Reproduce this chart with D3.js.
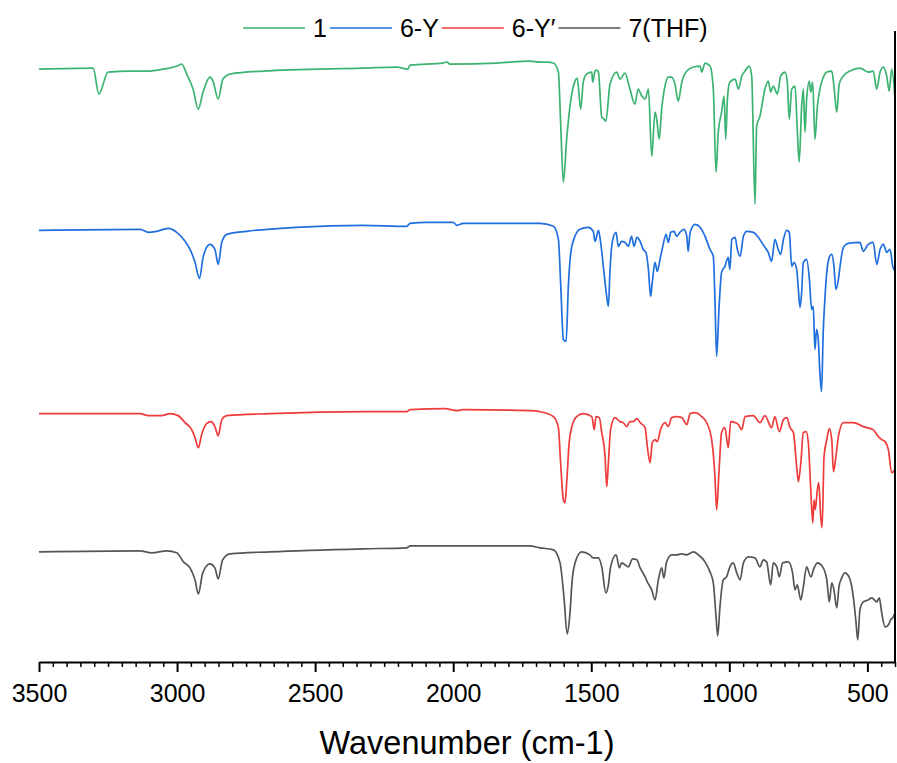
<!DOCTYPE html>
<html>
<head>
<meta charset="utf-8">
<script src="https://cdn.jsdelivr.net/npm/d3@7"></script>
<style>
    body { margin: 0; background: #fff; }
    svg text { font-family: Arial, "Liberation Sans", sans-serif; fill: #000; }
</style>
</head>
<body>
<div id="chart"></div>
<script>
// stacked IR spectra, [wavenumber, offset intensity]
const seriesNames = ['1', '6-Y', '6-Y\u2032', '7(THF)'];
const seriesColors = ['#3BB371', '#1F6FDE', '#EE3B3B', '#555555'];
const wavenumberTicks = [3500, 3000, 2500, 2000, 1500, 1000, 500];

const spec1 = [
    [3500, 592], [3304, 593], [3283, 567], [3250, 589], [3170, 590], [3098, 590], [3073, 591],
    [3000, 595], [2983, 597], [2965, 587], [2942, 572], [2923, 552], [2906, 569], [2881, 584],
    [2870, 580], [2851, 562], [2834, 582], [2808, 587], [2689, 590], [2327, 593], [2204, 594],
    [2164, 592], [2156, 596], [2037, 598], [2022, 599], [2012, 597], [1841, 598], [1722, 600],
    [1686, 599], [1660, 599], [1637, 598], [1619, 589], [1611, 539], [1601, 479], [1589, 522],
    [1577, 555], [1559, 580], [1551, 583], [1538, 552], [1529, 579], [1517, 587], [1498, 589],
    [1495, 579], [1486, 590], [1480, 591], [1474, 589], [1462, 544], [1454, 542], [1447, 540],
    [1432, 577], [1408, 589], [1396, 582], [1378, 588], [1360, 572], [1342, 557], [1330, 572],
    [1317, 565], [1305, 562], [1293, 572], [1281, 505], [1269, 549], [1263, 542], [1254, 522],
    [1245, 552], [1233, 575], [1221, 584], [1209, 584], [1197, 577], [1185, 560], [1172, 579],
    [1154, 590], [1130, 594], [1106, 595], [1100, 589], [1088, 598], [1070, 595], [1058, 572],
    [1048, 489], [1040, 529], [1028, 549], [1019, 565], [1013, 522], [1007, 562], [998, 579],
    [979, 582], [967, 572], [955, 585], [943, 590], [928, 595], [919, 585], [907, 457],
    [901, 535], [889, 545], [871, 572], [859, 580], [850, 569], [841, 575], [826, 567],
    [814, 585], [798, 589], [790, 579], [783, 542], [774, 572], [762, 575], [754, 532],
    [747, 499], [738, 555], [732, 572], [726, 529], [720, 562], [710, 580], [705, 569],
    [698, 579], [690, 522], [681, 555], [672, 572], [662, 582], [647, 589], [629, 590],
    [621, 575], [611, 549], [602, 577], [587, 585], [563, 590], [527, 593], [497, 589],
    [479, 590], [466, 572], [454, 589], [442, 594], [430, 585], [421, 570], [412, 592],
    [400, 562]
];

const spec6Y = [
    [3500, 431], [3134, 432], [3104, 429], [3074, 430], [3032, 433], [3001, 429], [2971, 420],
    [2953, 412], [2935, 399], [2919, 383], [2905, 405], [2881, 417], [2863, 412], [2851, 397],
    [2838, 419], [2820, 427], [2748, 430], [2567, 434], [2326, 436], [2168, 435], [2156, 438],
    [2096, 439], [2000, 439], [1987, 436], [1963, 438], [1782, 438], [1686, 438], [1637, 435],
    [1619, 422], [1611, 379], [1601, 322], [1591, 320], [1583, 375], [1574, 409], [1559, 425],
    [1541, 432], [1511, 434], [1493, 430], [1486, 420], [1474, 431], [1466, 419], [1454, 389],
    [1444, 365], [1438, 355], [1432, 392], [1422, 422], [1410, 429], [1402, 415], [1390, 420],
    [1378, 419], [1366, 415], [1354, 425], [1345, 415], [1335, 424], [1323, 420], [1312, 412],
    [1302, 409], [1293, 392], [1285, 365], [1279, 379], [1269, 399], [1261, 390], [1251, 402],
    [1241, 415], [1229, 427], [1221, 419], [1212, 429], [1200, 430], [1191, 425], [1179, 429],
    [1164, 432], [1154, 425], [1149, 410], [1142, 429], [1124, 437], [1106, 434], [1088, 425],
    [1070, 412], [1058, 405], [1052, 362], [1046, 305], [1037, 355], [1028, 389], [1016, 395],
    [1004, 404], [998, 392], [991, 422], [979, 424], [971, 412], [961, 405], [949, 425],
    [937, 430], [913, 429], [895, 424], [883, 419], [871, 414], [859, 409], [847, 400],
    [835, 422], [823, 412], [814, 407], [804, 422], [792, 431], [783, 429], [774, 395],
    [766, 399], [756, 392], [750, 372], [744, 354], [738, 369], [732, 399], [720, 402],
    [710, 382], [702, 352], [696, 355], [690, 312], [684, 332], [678, 322], [672, 289],
    [666, 270], [660, 329], [654, 362], [647, 389], [638, 404], [629, 407], [621, 395],
    [614, 372], [605, 382], [599, 395], [587, 414], [569, 418], [527, 419], [515, 410],
    [497, 417], [479, 419], [466, 397], [454, 412], [442, 417], [430, 409], [418, 412],
    [408, 395], [400, 390]
];

const spec6Y2 = [
    [3500, 248], [3134, 248], [3104, 246], [3056, 246], [3026, 248], [2996, 246], [2971, 239],
    [2947, 232], [2935, 224], [2923, 214], [2911, 227], [2893, 238], [2877, 240], [2863, 235],
    [2851, 226], [2838, 242], [2820, 246], [2663, 248], [2326, 250], [2168, 250], [2156, 252],
    [2030, 253], [1987, 251], [1963, 252], [1722, 251], [1686, 250], [1637, 245], [1619, 234],
    [1611, 199], [1601, 162], [1595, 159], [1589, 179], [1580, 219], [1571, 234], [1553, 245],
    [1529, 248], [1498, 245], [1489, 232], [1483, 245], [1471, 244], [1462, 229], [1450, 205],
    [1444, 175], [1438, 199], [1430, 232], [1414, 244], [1396, 240], [1384, 239], [1372, 235],
    [1360, 240], [1348, 240], [1335, 243], [1323, 239], [1305, 234], [1297, 215], [1287, 199],
    [1279, 219], [1269, 222], [1261, 220], [1249, 232], [1233, 239], [1221, 235], [1209, 244],
    [1191, 245], [1172, 244], [1154, 237], [1142, 248], [1124, 249], [1100, 245], [1082, 239],
    [1064, 222], [1052, 185], [1046, 152], [1037, 192], [1028, 229], [1016, 234], [1004, 214],
    [995, 240], [979, 239], [967, 237], [955, 232], [943, 245], [913, 246], [889, 239],
    [871, 246], [847, 234], [835, 245], [819, 230], [804, 242], [792, 244], [780, 234],
    [768, 229], [756, 195], [750, 180], [741, 199], [732, 229], [722, 230], [714, 219],
    [705, 172], [698, 139], [693, 162], [689, 152], [681, 172], [676, 179], [669, 145],
    [664, 134], [657, 205], [647, 222], [638, 233], [629, 222], [623, 190], [614, 205],
    [605, 225], [587, 239], [551, 239], [515, 235], [479, 232], [460, 225], [448, 222],
    [436, 220], [424, 212], [412, 189], [400, 192]
];

const spec7 = [
    [3500, 110], [3134, 111], [3092, 109], [3038, 111], [3001, 109], [2977, 100], [2953, 94],
    [2935, 82], [2923, 68], [2907, 89], [2881, 98], [2863, 94], [2851, 83], [2835, 102],
    [2808, 108], [2663, 110], [2326, 113], [2168, 114], [2156, 116], [1963, 116], [1722, 116],
    [1686, 114], [1637, 112], [1613, 99], [1599, 65], [1587, 28], [1577, 49], [1569, 82],
    [1555, 102], [1535, 110], [1505, 107], [1493, 104], [1474, 104], [1462, 95], [1447, 69],
    [1438, 77], [1430, 95], [1410, 107], [1398, 94], [1390, 99], [1378, 97], [1366, 95],
    [1350, 103], [1335, 102], [1323, 94], [1305, 85], [1297, 80], [1281, 72], [1269, 62],
    [1257, 82], [1245, 94], [1237, 84], [1227, 100], [1209, 107], [1191, 107], [1172, 108],
    [1154, 107], [1130, 110], [1112, 107], [1088, 100], [1070, 90], [1058, 79], [1048, 45],
    [1042, 26], [1034, 55], [1022, 82], [1010, 85], [998, 95], [986, 99], [973, 89],
    [961, 82], [949, 99], [931, 105], [907, 104], [889, 95], [877, 102], [865, 100],
    [850, 77], [841, 99], [828, 95], [819, 85], [807, 99], [786, 100], [771, 89],
    [762, 72], [754, 77], [741, 62], [732, 75], [720, 95], [705, 85], [693, 94],
    [681, 99], [662, 95], [647, 82], [638, 60], [629, 79], [621, 72], [611, 54],
    [603, 75], [593, 84], [581, 89], [565, 84], [551, 65], [541, 39], [535, 22],
    [527, 52], [515, 60], [497, 62], [484, 64], [466, 60], [457, 64], [448, 49],
    [436, 35], [424, 37], [416, 42], [406, 45], [400, 49]
];

const spectra = [spec1, spec6Y, spec6Y2, spec7];

window.onload = function() {

    const width = 897, height = 763;
    const left = 39, right = 895, top = 31, bottom = 662;

    const svg = d3.select('#chart')
                    .append('svg')
                    .attr('width', width)
                    .attr('height', height);

    const x = d3.scaleLinear()
                .domain([3500, 400])
                .range([left, right]);

    const y = d3.scaleLinear()
                .domain([0, 630])
                .range([bottom, top]);

    const line = d3.line()
                    .x(d => x(d[0]))
                    .y(d => y(d[1]))
                    .curve(d3.curveMonotoneX);

    svg.selectAll('.spectrum')
        .data(spectra)
        .enter()
        .append('path')
        .attr('class', 'spectrum')
        .attr('d', line)
        .attr('fill', 'none')
        .attr('stroke', (d, i) => seriesColors[i])
        .attr('stroke-width', 1.7)
        .attr('stroke-linejoin', 'round');

    // minor ticks every 50
    const minor = d3.range(3500, 399, -50).filter(v => wavenumberTicks.indexOf(v) < 0);
    svg.append('g')
        .attr('transform', 'translate(0,' + bottom + ')')
        .call(d3.axisBottom(x).tickValues(minor).tickSize(5).tickFormat(''))
        .call(g => g.select('.domain').remove())
        .selectAll('line')
        .attr('stroke', '#000')
        .attr('stroke-width', 1.5);

    const xAxis = svg.append('g')
        .attr('transform', 'translate(0,' + bottom + ')')
        .call(d3.axisBottom(x).tickValues(wavenumberTicks).tickSize(10).tickSizeOuter(0).tickPadding(12).tickFormat(d3.format('d')));

    xAxis.select('.domain')
        .attr('stroke', '#000')
        .attr('stroke-width', 2);

    xAxis.selectAll('.tick line')
        .attr('stroke', '#000')
        .attr('stroke-width', 2);

    xAxis.selectAll('.tick text')
        .attr('font-size', 25)
        .attr('font-family', 'Arial, "Liberation Sans", sans-serif')
        .attr('fill', '#000');

    // right frame line
    svg.append('line')
        .attr('x1', right)
        .attr('x2', right)
        .attr('y1', top)
        .attr('y2', bottom)
        .attr('stroke', '#000')
        .attr('stroke-width', 2);

    svg.append('text')
        .attr('x', (left + right) / 2)
        .attr('y', 754)
        .attr('text-anchor', 'middle')
        .attr('font-size', 32.5)
        .text('Wavenumber (cm-1)');

    // legend
    const legend = svg.append('g');
    let lx = 243;
    seriesNames.forEach(function(name, i) {
        legend.append('line')
            .attr('x1', lx)
            .attr('x2', lx + 62)
            .attr('y1', 28)
            .attr('y2', 28)
            .attr('stroke', seriesColors[i])
            .attr('stroke-width', 1.6);
        const t = legend.append('text')
            .attr('x', lx + 70)
            .attr('y', 37)
            .attr('font-size', 25)
            .text(name);
        lx += 70 + t.node().getComputedTextLength() + 3;
    });
}
</script>
</body>
</html>
